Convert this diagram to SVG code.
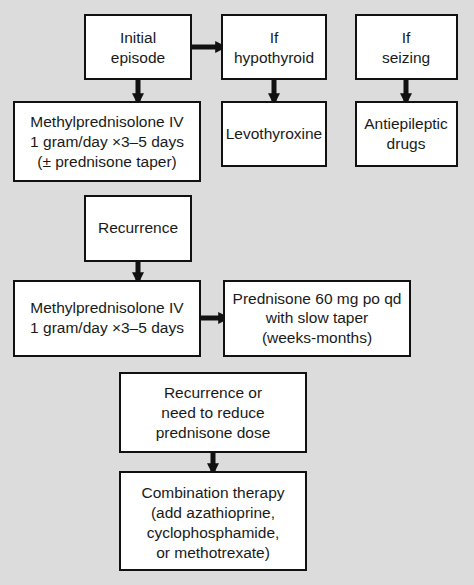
<svg xmlns="http://www.w3.org/2000/svg" width="474" height="585" viewBox="0 0 474 585">
<defs>
<marker id="ah" viewBox="0 0 10 10" refX="9" refY="5" markerWidth="2.4" markerHeight="2.6" markerUnits="strokeWidth" orient="auto">
<path d="M0,0 L10,5 L0,10 Z" fill="#111"/>
</marker>
<style>
.box{fill:#fff;stroke:#111;stroke-width:2}
.t{font-family:"Liberation Sans",Arial,sans-serif;font-size:15.5px;fill:#1a1a1a;text-anchor:middle}
.c{stroke:#111;stroke-width:5;fill:none;marker-end:url(#ah)}
</style>
</defs>
<rect x="0" y="0" width="474" height="585" fill="#dcdcdc"/>
<g id="connectors">
<path class="c" d="M191,47 H226"/>
<path class="c" d="M138,79 V104"/>
<path class="c" d="M274,79 V104"/>
<path class="c" d="M406,79 V104"/>
<path class="c" d="M138,261 V283"/>
<path class="c" d="M200,318 H229"/>
<path class="c" d="M213,452 V474"/>
</g>
<g id="initial">
<rect class="box" x="85" y="15" width="106" height="64"/>
<text class="t" x="138" y="43">Initial</text>
<text class="t" x="138" y="63">episode</text>
</g>
<g id="hypothyroid">
<rect class="box" x="222" y="15" width="104" height="64"/>
<text class="t" x="274" y="43">If</text>
<text class="t" x="274" y="63">hypothyroid</text>
</g>
<g id="seizing">
<rect class="box" x="356" y="15" width="101" height="64"/>
<text class="t" x="406" y="43">If</text>
<text class="t" x="406" y="63">seizing</text>
</g>
<g id="methyl1">
<rect class="box" x="14" y="102" width="186" height="79"/>
<text class="t" x="107" y="127">Methylprednisolone IV</text>
<text class="t" x="107" y="147">1 gram/day ×3–5 days</text>
<text class="t" x="107" y="167">(± prednisone taper)</text>
</g>
<g id="levothyroxine">
<rect class="box" x="222" y="102" width="104" height="64"/>
<text class="t" x="274" y="139">Levothyroxine</text>
</g>
<g id="antiepileptic">
<rect class="box" x="356" y="102" width="101" height="64"/>
<text class="t" x="406" y="129">Antiepileptic</text>
<text class="t" x="406" y="149">drugs</text>
</g>
<g id="recurrence">
<rect class="box" x="85" y="196" width="106" height="65"/>
<text class="t" x="138" y="233">Recurrence</text>
</g>
<g id="methyl2">
<rect class="box" x="14" y="281" width="186" height="75"/>
<text class="t" x="107" y="313">Methylprednisolone IV</text>
<text class="t" x="107" y="333">1 gram/day ×3–5 days</text>
</g>
<g id="prednisone">
<rect class="box" x="224" y="281" width="186" height="75"/>
<text class="t" x="317" y="304">Prednisone 60 mg po qd</text>
<text class="t" x="317" y="323">with slow taper</text>
<text class="t" x="317" y="343">(weeks-months)</text>
</g>
<g id="recurrence2">
<rect class="box" x="120" y="373" width="186" height="79"/>
<text class="t" x="213" y="398">Recurrence or</text>
<text class="t" x="213" y="418">need to reduce</text>
<text class="t" x="213" y="438">prednisone dose</text>
</g>
<g id="combination">
<rect class="box" x="120" y="472" width="186" height="98"/>
<text class="t" x="213" y="498">Combination therapy</text>
<text class="t" x="213" y="518">(add azathioprine,</text>
<text class="t" x="213" y="538">cyclophosphamide,</text>
<text class="t" x="213" y="558">or methotrexate)</text>
</g>
</svg>
